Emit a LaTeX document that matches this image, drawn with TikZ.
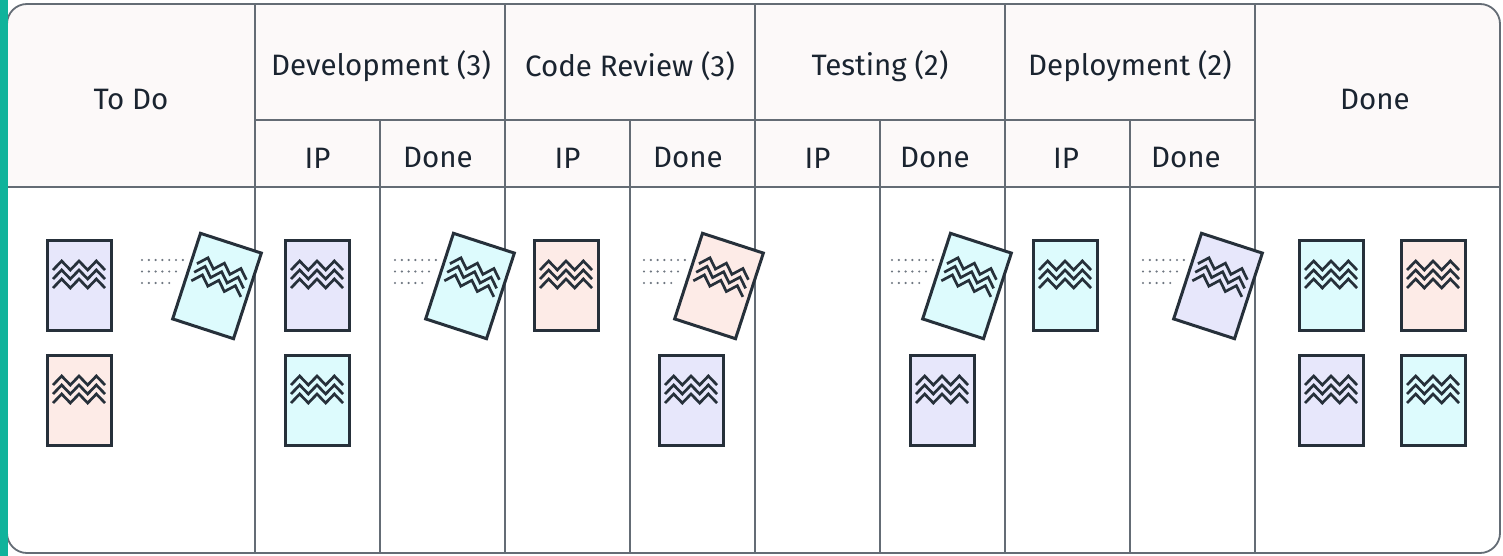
\documentclass[tikz,border=0pt]{standalone}
\usepackage{fontspec}
\setmainfont{Fira Sans}

\definecolor{stripteal}{HTML}{10B39B}
\definecolor{gridline}{HTML}{646C75}
\definecolor{headfill}{HTML}{FCF9F9}
\definecolor{ink}{HTML}{1A2430}
\definecolor{cardline}{HTML}{26303A}
\definecolor{lav}{HTML}{E7E7FB}
\definecolor{rose}{HTML}{FDEBE7}
\definecolor{aqua}{HTML}{DDFBFD}
\definecolor{dotgray}{HTML}{6E7680}

\tikzset{
  grid/.style={draw=gridline, line width=1.8pt},
  cardbox/.style={draw=cardline, fill=#1, line width=3pt, minimum width=64pt,
    minimum height=90pt, inner sep=0pt, outer sep=0pt},
  wave/.style={draw=cardline, line width=2.7pt, line join=miter},
  motion/.style={draw=dotgray, line width=2.4pt, line cap=round, dash pattern=on 0pt off 6.8pt},
  title/.style={font=\fontsize{29.5}{34}\selectfont, text=ink, inner sep=0pt},
  card/.pic={
    \node[cardbox=#1] (-box) at (0,0) {};
    \foreach \py in {-24,-15,-6}
      \draw[wave] (-26,\py+9) -- ++(8.67,-9) -- ++(8.67,9) -- ++(8.67,-9)
                  -- ++(8.67,9) -- ++(8.67,-9) -- ++(8.67,9);
  },
  tilted/.style={rotate=-18, transform shape},
}

\begin{document}
\begin{tikzpicture}[x=1pt, y=-1pt]
  \useasboundingbox (0,0) rectangle (1503,556);

  % board background with tinted header band
  \begin{scope}
    \clip[rounded corners=20] (7,4) rectangle (1500,553);
    \fill[white] (0,0) rectangle (1503,556);
    \fill[headfill] (0,0) rectangle (1503,187);
  \end{scope}
  \draw[grid, rounded corners=20] (7,4) rectangle (1500,553);

  % header rules and column dividers
  \draw[grid] (7,187) -- (1500,187);
  \draw[grid] (255,120) -- (1255,120);
  \foreach \cx in {255,505,755,1005,1255}
    \draw[grid] (\cx,4) -- (\cx,553);
  \foreach \cx in {380,630,880,1130}
    \draw[grid] (\cx,120) -- (\cx,553);

  % accent strip
  \fill[stripteal] (0,0) rectangle (7.5,556);

  % column titles
  \node[title] (todo) at (131,100) {To Do};
  \node[title] (dev)  at (381,66) {Development (3)};
  \node[title] (rev)  at (630,66) {Code Review (3)};
  \node[title] (test) at (880,66) {Testing (2)};
  \node[title] (dep)  at (1130,66) {Deployment (2)};
  \node[title] (done) at (1375,100) {Done};

  \node[title] (devip)   at (317.5,158) {IP};
  \node[title] (devdn)   at (438,158) {Done};
  \node[title] (revip)   at (567.5,158) {IP};
  \node[title] (revdn)   at (688,158) {Done};
  \node[title] (testip)  at (817.5,158) {IP};
  \node[title] (testdn)  at (935,158) {Done};
  \node[title] (depip)   at (1066,158) {IP};
  \node[title] (depdn)   at (1186,158) {Done};

  % cards at rest
  \pic (t1) at (79,285) {card=lav};
  \pic (t2) at (79,400) {card=rose};
  \pic (d1) at (317,285) {card=lav};
  \pic (d2) at (317,400) {card=aqua};
  \pic (r1) at (566,285) {card=rose};
  \pic (r2) at (691,400) {card=lav};
  \pic (s2) at (942,400) {card=lav};
  \pic (p1) at (1065,285) {card=aqua};
  \pic (f1) at (1331,285) {card=aqua};
  \pic (f2) at (1433,285) {card=rose};
  \pic (f3) at (1331,400) {card=lav};
  \pic (f4) at (1433,400) {card=aqua};

  % cards on the move, with trailing motion dots
  \foreach \mx/\mc [count=\k] in {217/aqua, 470/aqua, 719/rose, 967/aqua, 1218/lav} {
    \draw[motion] (\mx-75,260) -- ++(41,0);
    \draw[motion] (\mx-75,271.5) -- ++(34.5,0);
    \draw[motion] (\mx-75,283) -- ++(27.5,0);
    \pic[tilted] (m\k) at (\mx,286) {card=\mc};
  }
\end{tikzpicture}
\end{document}
